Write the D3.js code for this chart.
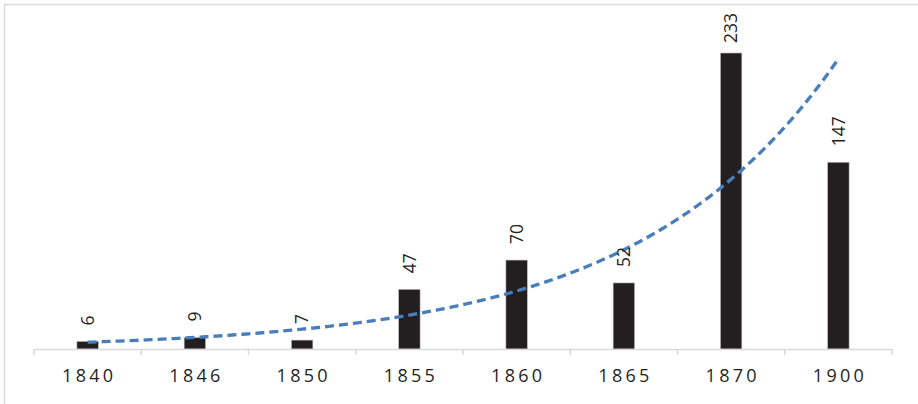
<!DOCTYPE html>
<html>
<head>
<meta charset="utf-8">
<script src="https://cdn.jsdelivr.net/npm/d3@7"></script>
<style>
  body { margin: 0; background: #fff; }
  svg { display: block; font-family: "Open Sans", "Liberation Sans", sans-serif; }
</style>
</head>
<body>
<div class="chart"></div>
<script>
const width = 918;
const height = 404;

// chart data
const years = ["1840", "1846", "1850", "1855", "1860", "1865", "1870", "1900"];
const counts = [6, 9, 7, 47, 70, 52, 233, 147];

const left = 34, right = 892, baseline = 349;

let svg = d3.select(".chart")
    .append("svg")
    .attr("width", width)
    .attr("height", height);

// chart border (only top and left visible in frame)
svg.append("rect")
    .attr("x", 4.5)
    .attr("y", 4.5)
    .attr("width", width + 10)
    .attr("height", height + 10)
    .attr("fill", "none")
    .attr("stroke", "#d9d9d9")
    .attr("stroke-width", 1.5);

let xScale = d3.scaleBand()
    .domain(years)
    .range([left, right])
    .paddingInner(0.8)
    .paddingOuter(0.4);

let yScale = d3.scaleLinear()
    .domain([0, 233])
    .range([baseline, 53]);

// bars
svg.append("g")
    .selectAll("rect")
    .data(counts)
    .enter()
    .append("rect")
    .attr("x", (d, i) => xScale(years[i]))
    .attr("y", d => yScale(d))
    .attr("width", xScale.bandwidth())
    .attr("height", d => baseline - yScale(d))
    .attr("fill", "#231f20")
    .attr("stroke", "#bfbfbf")
    .attr("stroke-width", 0.6);

// axis
let xAxis = d3.axisBottom(xScale).tickSize(0).tickPadding(20);
let gx = svg.append("g")
    .attr("transform", "translate(0," + baseline + ")")
    .call(xAxis);
gx.select(".domain").remove();
gx.selectAll("text")
    .attr("font-size", 18)
    .attr("fill", "#1f1f1f")
    .attr("letter-spacing", "3.3px")
    .attr("dx", "1.6px")
    .attr("font-family", "'Open Sans', sans-serif");

// axis line and boundary ticks
svg.append("line")
    .attr("x1", left).attr("x2", right)
    .attr("y1", baseline + 0.5).attr("y2", baseline + 0.5)
    .attr("stroke", "#d9d9d9")
    .attr("stroke-width", 1.5);
let step = (right - left) / years.length;
svg.append("g")
    .selectAll("line")
    .data(d3.range(years.length + 1))
    .enter()
    .append("line")
    .attr("x1", i => left + i * step)
    .attr("x2", i => left + i * step)
    .attr("y1", baseline)
    .attr("y2", baseline + 6)
    .attr("stroke", "#d9d9d9")
    .attr("stroke-width", 1.5);

// exponential trendline (least squares on ln y)
let xs = counts.map((d, i) => i + 1);
let lys = counts.map(d => Math.log(d));
let mx = d3.mean(xs), my = d3.mean(lys);
let b = d3.sum(xs, (x, i) => (x - mx) * (lys[i] - my)) / d3.sum(xs, x => (x - mx) * (x - mx));
let a = my - b * mx;
let xPos = d3.scaleLinear()
    .domain([1, years.length])
    .range([xScale(years[0]) + xScale.bandwidth() / 2,
            xScale(years[years.length - 1]) + xScale.bandwidth() / 2]);
let trend = d3.range(1, years.length + 0.001, 0.05).map(t => [t, Math.exp(a + b * t)]);
svg.append("path")
    .datum(trend)
    .attr("fill", "none")
    .attr("stroke", "#4a7ebb")
    .attr("stroke-width", 3.3)
    .attr("stroke-dasharray", "9,5")
    .attr("d", d3.line()
        .x(d => xPos(d[0]))
        .y(d => yScale(d[1])));

// data labels, rotated
svg.append("g")
    .selectAll("text")
    .data(counts)
    .enter()
    .append("text")
    .text(d => d)
    .attr("font-size", 17.5)
    .attr("fill", "#1f1f1f")
    .attr("text-anchor", "start")
    .attr("dy", "0.35em")
    .each(function (d, i) {
        let len = this.getComputedTextLength();
        let cx = xScale(years[i]) + xScale.bandwidth() / 2;
        let bottom = Math.max(yScale(d) - 16, 13 + len);
        d3.select(this).attr("transform", "translate(" + cx + "," + bottom + ") rotate(-90)");
    });
</script>
</body>
</html>
